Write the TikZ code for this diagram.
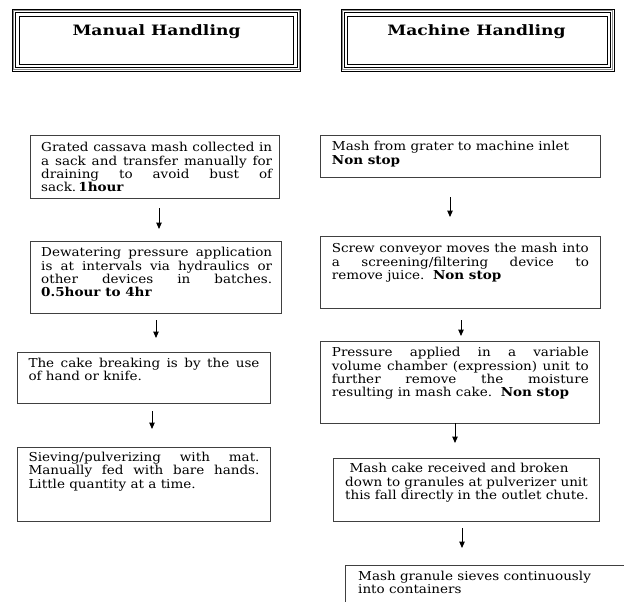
\documentclass[tikz,border=0pt]{standalone}
\usepackage{fontspec}
\setmainfont{DejaVu Serif}[FakeStretch=1.1]
\newfontfamily\ttlfont{DejaVu Serif}[FakeStretch=1.2]
\usetikzlibrary{arrows.meta}
\tikzset{
  box/.style={draw=black!75, line width=0.9pt, anchor=north west, inner sep=0pt},
  txt/.style={anchor=base west, inner sep=0pt, font=\fontsize{12.3}{13.3}\selectfont},
  ttl/.style={anchor=base, inner sep=0pt, font=\ttlfont\fontsize{14.3}{16}\selectfont\bfseries},
  arr/.style={line width=1pt, -{Triangle[length=6.5pt,width=5.5pt]}},
}
\newcommand{\jl}[1]{\makebox[\linewidth][s]{#1}}
\newcommand{\hdrbox}[4]{%
  \draw[black, line width=0.7pt] (#1,#2) rectangle (#3,#4);
  \draw[black!45, line width=1.3pt] (#1+1.3,#2+1.3) rectangle (#3-1.3,#4-1.3);
  \draw[black, line width=1.3pt] (#1+3.3,#2+3.3) rectangle (#3-3.3,#4-3.3);
  \draw[black, line width=0.9pt] (#1+6.8,#2+6.8) rectangle (#3-6.8,#4-6.8);
}
\begin{document}
\begin{tikzpicture}[x=1pt,y=-1pt]
\useasboundingbox (0,0) rectangle (624,602);
\fill[white] (0,0) rectangle (624,602);
% headers
\hdrbox{12.5}{9.5}{300.5}{71}
\hdrbox{341}{9.5}{614}{71}
\node[ttl] (h1) at (156.5,36) {Manual Handling};
\node[ttl] (h2) at (476.5,36) {Machine Handling};
% left boxes
\node[box, minimum width=249, minimum height=63] (L1) at (30,135) {};
\node[box, minimum width=251, minimum height=72] (L2) at (30,241) {};
\node[box, minimum width=253, minimum height=51] (L3) at (17,352) {};
\node[box, minimum width=253, minimum height=74] (L4) at (17,447) {};
\node[txt] (L1t) at (41,151.7) {\parbox[t]{231pt}{%
\jl{Grated cassava mash collected in}\\
\jl{a sack and transfer manually for}\\
\jl{draining to avoid bust of}\\
sack.\,\textbf{1hour}}};
\node[txt] (L2t) at (41,256.7) {\parbox[t]{231pt}{%
\jl{Dewatering pressure application}\\
\jl{is at intervals via hydraulics or}\\
\jl{other devices in batches.}\\
\textbf{0.5hour to 4hr}}};
\node[txt] (L3t) at (28.3,367) {\parbox[t]{231pt}{%
\jl{The cake breaking is by the use}\\
of hand or knife.}};
\node[txt] (L4t) at (28.3,461.5) {\parbox[t]{231pt}{%
\jl{Sieving/pulverizing with mat.}\\
\jl{Manually fed with bare hands.}\\
Little quantity at a time.}};
% right boxes
\node[box, minimum width=280, minimum height=42] (R1) at (320,135) {};
\node[box, minimum width=280, minimum height=72] (R2) at (320,236) {};
\node[box, minimum width=279, minimum height=82] (R3) at (320,341) {};
\node[box, minimum width=266, minimum height=63] (R4) at (333,458) {};
\begin{scope}
\clip (0,0) rectangle (624,602);
\draw[draw=black!75, line width=0.9pt] (345,640) -- (345,565) -- (640,565);
\end{scope}
\node[txt] (R1t) at (331.7,150.7) {\parbox[t]{265pt}{%
Mash from grater to machine inlet\\
\textbf{Non stop}}};
\node[txt] (R2t) at (331.7,252.7) {\parbox[t]{257pt}{%
\jl{Screw conveyor moves the mash into}\\
\jl{a screening/filtering device to}\\
remove juice.\ \ \textbf{Non stop}}};
\node[txt] (R3t) at (331.7,356.7) {\parbox[t]{257pt}{%
\jl{Pressure applied in a variable}\\
\jl{volume chamber (expression) unit to}\\
\jl{further remove the moisture}\\
resulting in mash cake.\ \ \textbf{Non stop}}};
\node[txt] (R4t) at (345,472.7) {\parbox[t]{265pt}{%
\ Mash cake received and broken\\
down to granules at pulverizer unit\\
this fall directly in the outlet chute.}};
\node[txt] (R5t) at (358,580) {\parbox[t]{265pt}{%
Mash granule sieves continuously\\
into containers}};
% arrows
\coordinate (la1s) at (159,208); \coordinate (la1e) at (159,229);
\coordinate (la2s) at (156,320); \coordinate (la2e) at (156,338);
\coordinate (la3s) at (152,411); \coordinate (la3e) at (152,429);
\coordinate (ra1s) at (450,197); \coordinate (ra1e) at (450,217);
\coordinate (ra2s) at (461,320); \coordinate (ra2e) at (461,336);
\coordinate (ra3s) at (455,423); \coordinate (ra3e) at (455,443);
\coordinate (ra4s) at (462,528); \coordinate (ra4e) at (462,548);
\foreach \a in {la1,la2,la3,ra1,ra2,ra3,ra4}{\draw[arr] (\a s) -- (\a e);}
\end{tikzpicture}
\end{document}
